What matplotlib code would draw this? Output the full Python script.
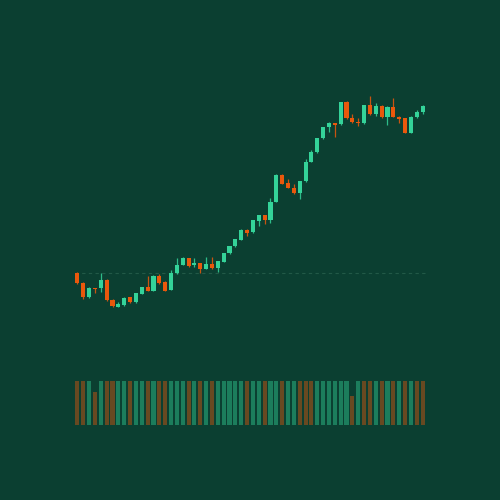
import matplotlib
matplotlib.use("Agg")
import matplotlib.pyplot as plt
import numpy as np

opens = [100.00, 98.12, 95.26, 97.06, 97.00, 98.66, 94.66, 93.36, 93.66, 95.26,
         94.26, 95.96, 97.20, 96.52, 99.46, 98.32, 96.66, 100.12, 101.66, 103.00,
         101.56, 102.00, 100.96, 101.80, 101.00, 102.36, 104.06, 105.46, 106.76, 108.66,
         108.26, 110.46, 111.66, 110.72, 114.32, 119.66, 118.00, 117.10, 116.00, 118.40,
         122.32, 124.26, 127.00, 129.32, 129.96, 129.80, 134.26, 131.00, 130.32, 130.00,
         133.56, 131.86, 133.46, 131.32, 133.32, 131.32, 131.06, 128.16, 131.26, 132.32]
highs = [100.26, 98.32, 97.32, 97.16, 100.16, 98.80, 94.76, 94.26, 95.26, 95.36,
         96.06, 97.36, 99.46, 99.56, 99.76, 98.46, 100.66, 103.16, 103.36, 103.16,
         103.12, 102.16, 103.32, 103.26, 102.56, 104.16, 105.56, 106.92, 108.86, 108.80,
         110.76, 111.76, 111.76, 115.00, 119.76, 119.76, 118.76, 117.86, 118.52, 122.86,
         124.66, 127.10, 129.30, 130.20, 130.06, 134.32, 134.36, 131.86, 131.12, 133.76,
         135.46, 134.00, 133.56, 133.40, 135.16, 131.40, 131.16, 131.40, 132.56, 133.56]
lows = [97.86, 94.76, 95.12, 96.16, 96.36, 94.52, 93.26, 93.26, 93.56, 94.16,
        94.16, 95.86, 96.46, 96.46, 97.76, 96.46, 96.56, 99.96, 101.56, 101.36,
        101.32, 100.06, 100.86, 100.86, 100.20, 102.26, 103.96, 105.36, 106.66, 107.56,
        108.16, 109.46, 109.82, 110.16, 114.26, 117.86, 117.00, 115.96, 114.96, 118.32,
        122.26, 124.16, 126.92, 128.20, 127.32, 129.72, 130.92, 130.12, 129.52, 129.92,
        131.76, 131.52, 131.12, 129.72, 131.26, 130.16, 128.06, 128.06, 131.16, 131.92]
closes = [98.12, 95.20, 97.12, 96.76, 98.66, 94.66, 93.46, 93.76, 95.16, 94.26,
          96.00, 97.26, 96.52, 99.46, 98.12, 96.52, 100.12, 101.66, 103.00, 101.46,
          102.06, 100.96, 101.80, 101.00, 102.36, 104.06, 105.46, 106.82, 108.70, 108.16,
          110.66, 111.66, 110.72, 114.32, 119.66, 117.92, 117.10, 116.00, 118.40, 122.32,
          124.32, 127.00, 129.20, 130.00, 129.66, 134.26, 131.00, 130.20, 129.96, 133.66,
          131.82, 133.46, 131.20, 133.32, 131.32, 130.86, 128.16, 131.32, 132.26, 133.42]
volumes = [100, 100, 100, 75, 100, 100, 100, 100, 100, 100,
           100, 100, 100, 100, 100, 100, 100, 100, 100, 100,
           100, 100, 100, 100, 100, 100, 100, 100, 100, 100,
           100, 100, 100, 100, 100, 100, 100, 100, 100, 100,
           100, 100, 100, 100, 100, 100, 100, 66, 100, 100,
           100, 100, 100, 100, 100, 100, 100, 100, 100, 100]
volume_up = [0, 0, 1, 0, 1, 0, 0, 1, 1, 0,
             1, 1, 0, 1, 0, 0, 1, 1, 1, 0,
             1, 0, 1, 0, 1, 1, 1, 1, 1, 0,
             1, 1, 0, 1, 1, 0, 1, 1, 0, 0,
             0, 1, 1, 1, 1, 1, 1, 0, 1, 0,
             0, 1, 0, 1, 0, 1, 0, 1, 0, 0]

BG = "#0b3f31"
UP = "#34d399"
DOWN = "#ea580c"

fig = plt.figure(figsize=(5, 5), dpi=100, facecolor=BG)
ax = fig.add_axes([0.149, 0.32, 0.702, 0.56])
axv = fig.add_axes([0.149, 0.15, 0.702, 0.088])
for a in (ax, axv):
    a.set_facecolor(BG)
    a.axis("off")

x = np.arange(len(opens))
o = np.array(opens); c = np.array(closes)
h = np.array(highs); l = np.array(lows)
up = c >= o
cols = np.where(up, UP, DOWN)

ax.axhline(opens[0], color="#3f7a63", lw=0.8, ls=(0, (3, 3)), alpha=0.45, zorder=1)
ax.vlines(x, l, h, colors=cols, lw=0.9, alpha=0.85, zorder=2)
ax.bar(x, np.maximum(np.abs(c - o), 0.08), bottom=np.minimum(o, c), width=0.7,
       color=cols, zorder=3, linewidth=0)
ax.set_xlim(-0.5, len(opens) - 0.5)
ax.set_ylim(86.66, 142.66)

vcols = [UP if u else DOWN for u in volume_up]
axv.bar(x, volumes, width=0.7, color=vcols, alpha=0.42, linewidth=0)
axv.set_xlim(-0.5, len(opens) - 0.5)
axv.set_ylim(0, 100)

fig.savefig("out.png", dpi=100, facecolor=BG)
